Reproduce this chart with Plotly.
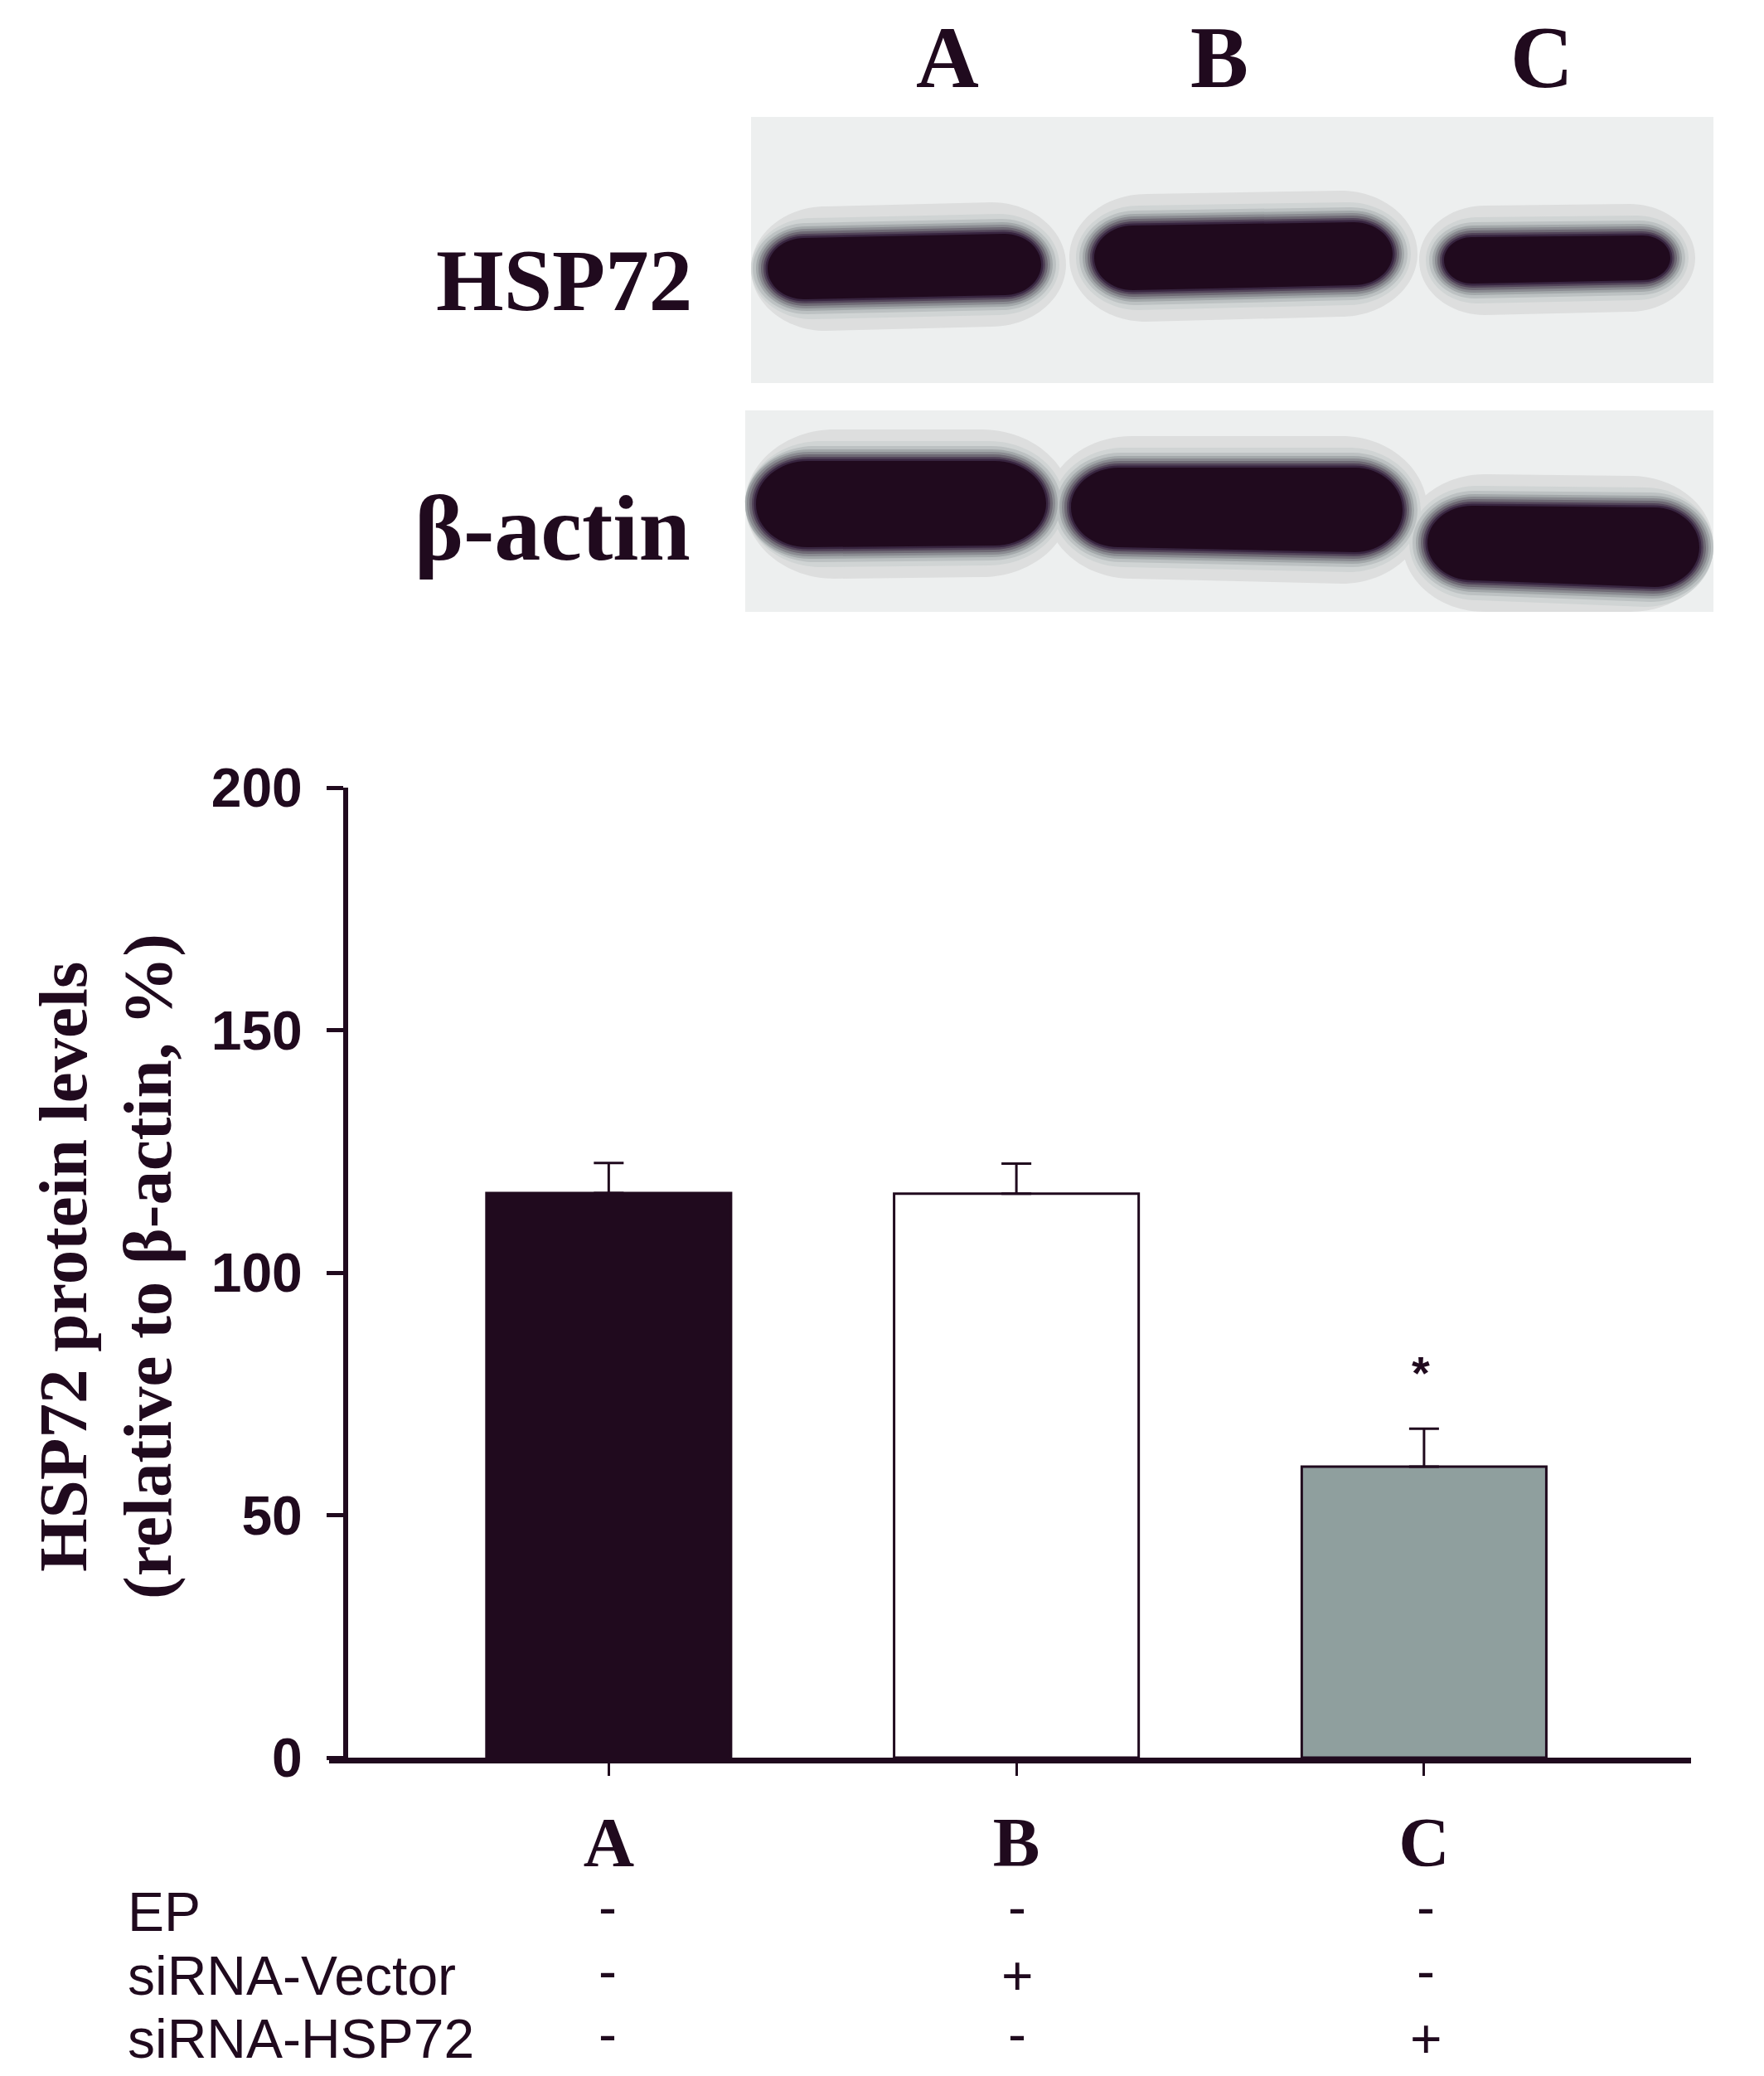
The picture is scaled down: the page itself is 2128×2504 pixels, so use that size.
import plotly.graph_objects as go

W = 2128
H = 2504
DARK = '#200a1e'

# bar chart data
groups = [1, 2, 3]
group_labels = ['A', 'B', 'C']
levels = [116.4, 116.3, 60.0]
sem = [6.2, 6.2, 7.8]
bar_colors = [DARK, '#ffffff', '#8f9f9e']
y_ticks = [0, 50, 100, 150, 200]

# treatment table under the axis
row_names = ['EP', 'siRNA-Vector', 'siRNA-HSP72']
row_ep = ['-', '-', '-']
row_vector = ['-', '+', '-']
row_hsp72 = ['-', '-', '+']

# blots: panel box in page pixels, bands are x0, x1, top left, top right, bottom left, bottom right
panel_hsp72 = (906, 2067, 141, 462)
bands_hsp72 = [(926, 1256, 287, 282, 361, 356),
               (1320, 1680, 272, 268, 350, 344),
               (1742, 2015, 286, 284, 342, 338)]
panel_actin = (899, 2067, 495, 738)
bands_actin = [(912, 1262, 556, 556, 660, 658),
               (1292, 1692, 564, 564, 660, 666),
               (1722, 2050, 610, 612, 700, 708)]
# band blur from outside to inside: horizontal grow, vertical grow, colour
blur = [(30, 38, '#dddede'), (22, 24, '#d0d4d4'), (18, 18, '#bcc1c2'), (14, 14, '#a3a8aa'),
        (11, 11, '#8a8b91'), (8, 8, '#6f6a75'), (5, 5, '#53455a'), (2.5, 2.5, '#382540'), (0, 0, DARK)]


def px(x):
    return x / W


def py(y):
    return 1 - y / H


def band_path(band, grow_x, grow_y, panel):
    x0, x1, tl, tr, bl, br = band
    left, right, top, bottom = panel
    x0 = max(x0 - grow_x, left)
    x1 = min(x1 + grow_x, right)
    tl = max(tl - grow_y, top)
    tr = max(tr - grow_y, top)
    bl = min(bl + grow_y, bottom)
    br = min(br + grow_y, bottom)
    r = (bl - tl) * 0.6
    ml = (tl + bl) / 2
    mr = (tr + br) / 2
    k = 0.55
    pts = [
        ('M', [(x0, ml)]),
        ('C', [(x0, ml - (ml - tl) * k), (x0 + r * (1 - k), tl), (x0 + r, tl)]),
        ('L', [(x1 - r, tr)]),
        ('C', [(x1 - r * (1 - k), tr), (x1, mr - (mr - tr) * k), (x1, mr)]),
        ('C', [(x1, mr + (br - mr) * k), (x1 - r * (1 - k), br), (x1 - r, br)]),
        ('L', [(x0 + r, bl)]),
        ('C', [(x0 + r * (1 - k), bl), (x0, ml + (bl - ml) * k), (x0, ml)]),
    ]
    path = ''
    for cmd, coords in pts:
        path += cmd + ' '.join(f'{px(a):.5f},{py(b):.5f}' for a, b in coords) + ' '
    return path + 'Z'


shapes = []
for panel, bands in [(panel_hsp72, bands_hsp72), (panel_actin, bands_actin)]:
    shapes.append(dict(type='rect', xref='paper', yref='paper', line_width=0, fillcolor='#edefef',
                       x0=px(panel[0]), x1=px(panel[1]), y0=py(panel[3]), y1=py(panel[2])))
    for gx, gy, col in blur:
        for band in bands:
            shapes.append(dict(type='path', xref='paper', yref='paper', line_width=0, fillcolor=col,
                               path=band_path(band, gx, gy, panel)))


def label(text, x, y, size, family='Liberation Serif', weight=700, xanchor='center', angle=0):
    return dict(text=text, xref='paper', yref='paper', x=px(x), y=py(y), showarrow=False,
                xanchor=xanchor, yanchor='middle', textangle=angle,
                font=dict(family=family, size=size, color=DARK, weight=weight))


annotations = [
    label('A', 1143, 70, 105), label('B', 1471, 70, 105), label('C', 1860, 70, 105),
    label('HSP72', 837, 338, 105, xanchor='right'),
    label('β-actin', 835, 637, 112, xanchor='right'),
    label('HSP72 protein levels', 76, 1528, 83, angle=-90),
    label('(relative to β-actin, %)', 178, 1528, 83, angle=-90),
    label('*', 1714, 1655, 56, family='Liberation Sans', weight=700),
]
row_ys = [2306, 2383, 2459]
mark_xs = [733, 1227, 1720]
for name, marks, ry in zip(row_names, [row_ep, row_vector, row_hsp72], row_ys):
    annotations.append(label(name, 152, ry, 66, family='Liberation Sans', weight=400, xanchor='left'))
    for mark, mx in zip(marks, mark_xs):
        # the dashes sit a little higher than the plus signs in the original
        my = ry - 6 if mark == '-' else ry
        annotations.append(label(mark, mx, my, 66, family='Liberation Sans', weight=400))

fig = go.Figure()
fig.add_trace(go.Bar(
    x=groups, y=levels, width=0.6,
    marker=dict(color=bar_colors, line=dict(color=DARK, width=3)),
    error_y=dict(type='data', symmetric=False, array=sem, arrayminus=[0, 0, 0],
                 color=DARK, thickness=3, width=18),
    showlegend=False,
))
fig.update_layout(
    width=W, height=H,
    margin=dict(l=0, r=0, t=0, b=0, autoexpand=False),
    paper_bgcolor='white', plot_bgcolor='white',
    shapes=shapes, annotations=annotations,
    xaxis=dict(domain=[397 / W, 2040 / W], range=[0.314, 3.655], tickmode='array',
               tickvals=groups, ticktext=group_labels, ticks='outside', ticklen=15, tickwidth=3,
               tickcolor=DARK, showline=True, linewidth=7, linecolor=DARK, showgrid=False,
               zeroline=False, ticklabelstandoff=7,
               tickfont=dict(family='Liberation Serif', size=85, color=DARK, weight=700)),
    yaxis=dict(domain=[(H - 2120) / H, (H - 950) / H], range=[0, 200], tickmode='array',
               tickvals=y_ticks, anchor='free', position=417 / W, side='left',
               ticks='outside', ticklen=20, tickwidth=5, tickcolor=DARK,
               showline=True, linewidth=6, linecolor=DARK, showgrid=False, zeroline=False,
               ticklabelstandoff=16,
               tickfont=dict(family='Liberation Sans', size=66, color=DARK, weight=700)),
)

# page margin off so page pixels line up with the figure
fig.write_html("out.html", config={'displayModeBar': False},
               post_script="document.body.style.margin='0'")
